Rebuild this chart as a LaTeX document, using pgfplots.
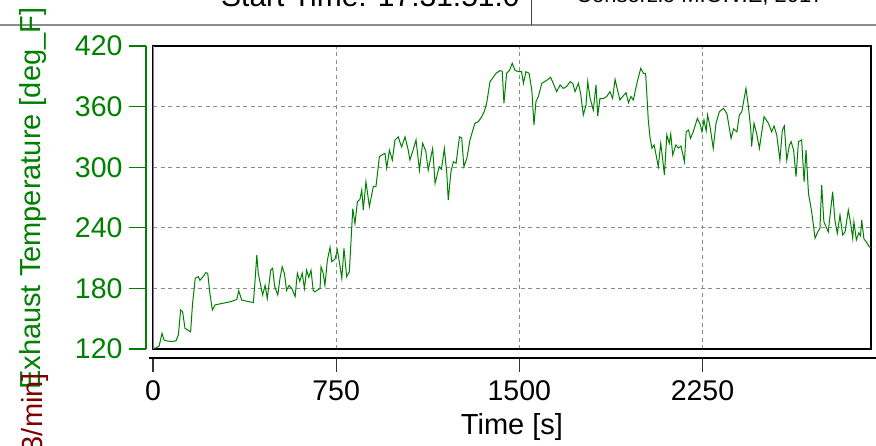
\documentclass[border=0pt]{standalone}
\usepackage{pgfplots}
\pgfplotsset{compat=1.18}
\usepackage{fontspec}
\setmainfont{Liberation Sans}
\definecolor{dgreen}{RGB}{0,128,0}
\definecolor{dred}{RGB}{128,0,0}
\definecolor{gridgray}{RGB}{140,140,140}
\begin{document}
\begin{tikzpicture}
\useasboundingbox (0pt,0pt) rectangle (876pt,445pt);
% header
\draw[gridgray, line width=2pt] (0pt,420pt) -- (876pt,420pt);
\draw[black!75, line width=1pt] (531pt,420pt) -- (531pt,450pt);
\node[anchor=base west, inner sep=0pt, font=\fontsize{30}{36}\selectfont] at (221pt,438pt) {Start Time: 17:31:51.0};
\node[anchor=base west, inner sep=0pt, font=\fontsize{22}{26}\selectfont] at (576pt,442pt) {Consorzio M.O.V.E, 2017};
% y labels
\node[rotate=90, anchor=base west, inner sep=0pt, text=dgreen, font=\fontsize{29}{34}\selectfont] at (40pt,55pt) {Exhaust Temperature [deg\_F]};
\node[rotate=90, anchor=base east, inner sep=0pt, text=dred, font=\fontsize{29}{34}\selectfont] at (43pt,72pt) {3/min]};
% main plot
\begin{axis}[at={(153pt,96pt)}, anchor=south west, scale only axis,
  width=718pt, height=303pt,
  xmin=0, xmax=2940, ymin=120, ymax=420,
  xtick={750,1500,2250}, ytick={180,240,300,360},
  xticklabels={}, yticklabels={},
  major tick length=0pt,
  grid=major,
  major grid style={gridgray, dash pattern=on 4pt off 3.5pt, line width=0.9pt},
  axis line style={black, line width=1.1pt}]
\addplot[dgreen, line width=1pt] coordinates {
(0,120.7)(12,121)(25,123)(37,135.5)(45,129)(56,128)(75,127.5)(94,128)(104,134)(113,158.6)(121,157)(131,140.5)(154,137)(162,165)(173,190)(186,191.6)(192,188)(203,191)(216,195.5)(224,195)(233,175)(243,158.6)(254,163.6)(280,165)(302,166)(320,167)(343,169)(351,177.7)(363,168.5)(390,167)(411,166)(418,188)(425,213)(431,195)(441,183)(449,173.5)(459,183)(468,170)(482,198)(490,200)(498,182)(511,173.5)(520,190)(529,201.5)(538,195)(547,178)(557,183)(568,180)(582,172)(591,195)(601,187)(611,195)(620,180)(629,198)(638,191)(647,198)(656,178)(663,176.7)(684,180)(688,201.5)(697,195)(704,183)(714,208)(725,220.7)(732,206.5)(745,209)(755,218)(766,201.5)(773,190)(782,219.7)(793,191.6)(804,196.5)(818,259)(827,244)(837,266)(847,268)(855,277.5)(861,257.6)(872,285.6)(886,261)(902,280.7)(913,281)(927,310.4)(937,312)(950,313.7)(957,299)(968,317)(980,307)(991,327)(1004,330)(1018,320)(1032,330)(1045,317)(1052,307)(1065,317)(1077,327)(1091,297)(1104,323.7)(1117,316)(1127,297)(1145,318.6)(1155,284)(1172,300.5)(1181,298)(1193,318.6)(1203,294)(1209,267.5)(1220,295.5)(1230,305.4)(1241,304)(1255,330)(1264,329)(1273,300.5)(1285,308.7)(1298,327)(1318,343.5)(1332,345)(1346,350)(1356,355)(1366,363)(1380,384.7)(1393,389)(1405,393)(1421,395.6)(1430,395)(1437,363.3)(1448,393)(1460,396)(1471,402.9)(1482,396)(1491,395)(1500,394.6)(1509,394.6)(1517,383)(1527,394.6)(1540,393)(1551,376.4)(1560,341.8)(1568,364.9)(1578,370)(1592,383)(1612,386)(1628,389)(1639,383)(1653,374.8)(1667,381.4)(1680,378)(1694,380)(1708,384.7)(1719,383)(1728,374.8)(1742,383)(1751,373)(1762,351.7)(1773,361.6)(1780,384.7)(1790,368)(1803,356.6)(1814,381.4)(1821,350.7)(1830,368)(1844,368)(1858,370)(1871,374.8)(1882,368)(1892,387)(1902,376.4)(1912,366.5)(1923,370)(1937,373.8)(1947,363.8)(1957,370)(1967,366.5)(1974,374.8)(1983,384.7)(1997,397.8)(2008,393)(2017,393)(2022,373)(2028,346.7)(2035,330)(2043,318.7)(2052,322)(2060,312)(2069,300.5)(2079,323.6)(2086,310)(2094,292.3)(2104,332)(2114,323.6)(2120,332.9)(2128,312)(2141,322)(2152,319)(2162,321)(2170,312)(2176,305.4)(2183,335)(2193,336.8)(2201,328.5)(2212,335)(2229,348.3)(2240,343)(2248,335)(2256,346.7)(2265,336)(2271,351.7)(2281,340)(2294,318.6)(2305,343)(2319,355)(2336,358.2)(2350,353)(2367,328.5)(2377,338)(2391,335)(2401,351.7)(2411,355)(2428,378)(2438,359.9)(2448,336.8)(2451,320.4)(2461,343.5)(2472,333)(2483,318.7)(2502,350)(2520,343.5)(2533,335)(2543,340.8)(2554,331.9)(2567,307)(2577,336.8)(2585,340.8)(2595,307)(2606,322)(2613,325.3)(2623,317)(2633,290.6)(2643,325.3)(2656,327)(2666,285.6)(2674,317)(2684,274)(2697,256)(2711,229.6)(2722,236)(2731,239.5)(2738,282.4)(2747,246)(2765,236)(2783,275.7)(2792,248)(2802,234.5)(2813,252.7)(2824,232.9)(2834,236)(2847,257.6)(2857,244)(2865,229.6)(2870,246)(2880,228)(2890,235)(2897,232)(2902,247.7)(2911,229)(2920,226.3)(2933,221.3)(2940,220)
};
\draw[gray, line width=1.8pt] (rel axis cs:0,0) -- (rel axis cs:0,1);
\end{axis}
% left y axis
\begin{axis}[at={(146pt,96pt)}, anchor=south west, scale only axis,
  width=718pt, height=303pt,
  xmin=0, xmax=2940, ymin=120, ymax=420,
  hide x axis, axis y line*=left,
  ytick={120,180,240,300,360,420},
  yticklabels={120,180,240,300,360,420},
  tick align=outside, major tick length=17pt,
  y axis line style={dgreen, line width=1.3pt},
  ytick style={dgreen, line width=1.3pt},
  yticklabel style={text=dgreen, xshift=-3pt, font=\fontsize{28.5}{32}\selectfont}]
\addplot[draw=none] coordinates {(0,120)};
\end{axis}
% bottom x axis
\begin{axis}[at={(153pt,87pt)}, anchor=south west, scale only axis,
  width=718pt, height=303pt,
  xmin=0, xmax=2940, ymin=120, ymax=420,
  hide y axis, axis x line*=bottom,
  xtick={0,750,1500,2250},
  xticklabels={0,750,1500,2250},
  tick align=outside, major tick length=14pt,
  x axis line style={black, line width=1.3pt, shorten <=-4pt, shorten >=-6pt},
  xtick style={black!80, line width=1.3pt},
  xticklabel style={text=black, yshift=-5pt, font=\fontsize{28.5}{32}\selectfont},
  xlabel={Time [s]},
  xlabel style={at={(axis description cs:0.5,0)}, anchor=base, yshift=-76pt, inner sep=0pt, font=\fontsize{29}{34}\selectfont}]
\addplot[draw=none] coordinates {(0,120)};
\end{axis}
\end{tikzpicture}
\end{document}
